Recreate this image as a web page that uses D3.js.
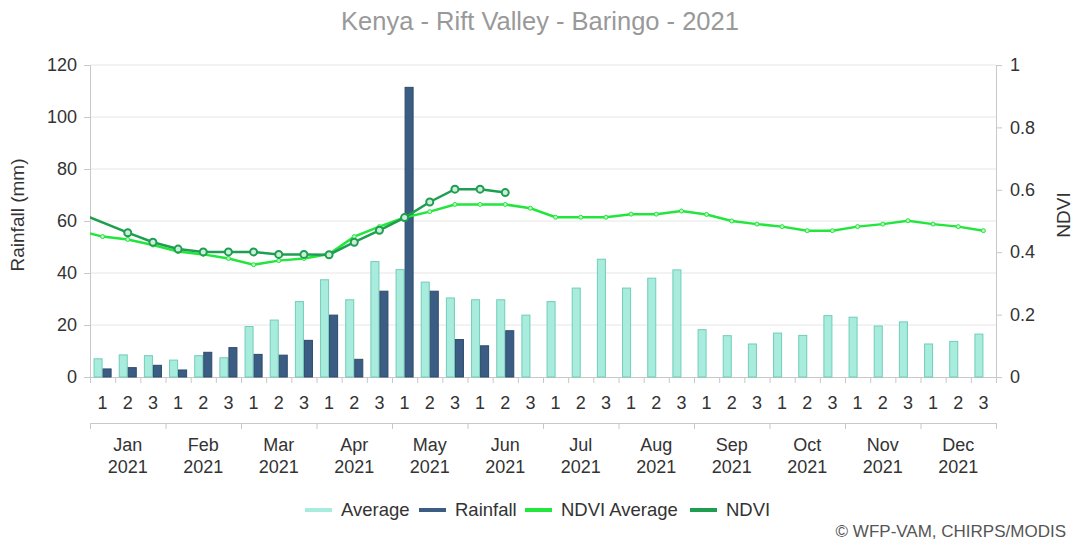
<!DOCTYPE html>
<html>
<head>
<meta charset="utf-8">
<script src="https://cdn.jsdelivr.net/npm/d3@7"></script>
<style>
  body { margin: 0; background: #fff; }
  svg { font-family: "Liberation Sans", Arial, sans-serif; }
</style>
</head>
<body>
<div id="chart"></div>
<script>
// data
var months = ["Jan", "Feb", "Mar", "Apr", "May", "Jun", "Jul", "Aug", "Sep", "Oct", "Nov", "Dec"];
var dekadLabels = ["1", "2", "3"];
var year = "2021";

var avgRain = [7, 8.5, 8.2, 6.5, 8.2, 7.4, 19.4, 21.9, 29, 37.4, 29.7, 44.4,
  41.3, 36.5, 30.4, 29.7, 29.7, 23.8, 29, 34.2, 45.3, 34.2, 38, 41.2,
  18.2, 15.9, 12.7, 16.9, 16, 23.6, 23, 19.6, 21.2, 12.7, 13.7, 16.5];
var rainfall = [3.1, 3.6, 4.5, 2.7, 9.5, 11.3, 8.7, 8.4, 14.1, 23.8, 6.8, 33,
  111.4, 33, 14.4, 12, 17.8];

var ndviAvg = [0.450, 0.441, 0.423, 0.402, 0.393, 0.380, 0.360, 0.373, 0.380, 0.394, 0.450, 0.482,
  0.511, 0.530, 0.553, 0.553, 0.553, 0.541, 0.512, 0.512, 0.512, 0.522, 0.522, 0.532,
  0.521, 0.500, 0.490, 0.482, 0.469, 0.469, 0.482, 0.490, 0.501, 0.490, 0.482, 0.469];
var ndvi = [null, 0.4625, 0.432, 0.410, 0.401, 0.401, 0.401, 0.393, 0.393, 0.392, 0.432, 0.470,
  0.511, 0.561, 0.602, 0.602, 0.591];
// last dekad of the previous year (line enters from the left edge)
var ndviAvgPrev = 0.470;
var ndviPrev = 0.528;

var W = 1073, H = 545;
var margin = { top: 65, right: 77, bottom: 168, left: 90 };
var width = W - margin.left - margin.right,
    height = H - margin.top - margin.bottom;

var colAvg = "#a8ecdd", colAvgStroke = "#72cdb9";
var colRain = "#3c5d83", colRainStroke = "#2d4b6e";
var colNdviAvg = "#22e63c", colNdvi = "#1e9e50";
var labelSize = "18px";

var svg = d3.select("#chart").append("svg")
  .attr("width", W)
  .attr("height", H);

svg.append("text")
  .attr("x", 540)
  .attr("y", 30)
  .attr("text-anchor", "middle")
  .style("font-size", "25.5px")
  .style("fill", "#999")
  .text("Kenya - Rift Valley - Baringo - 2021");

var g = svg.append("g")
  .attr("transform", "translate(" + margin.left + "," + margin.top + ")");

var nDek = months.length * 3;
var idx = d3.range(nDek);

var x = d3.scaleBand().domain(idx).range([0, width]).padding(0);
var xLin = d3.scaleLinear().domain([0, nDek]).range([0, width]);
var xSub = d3.scaleBand().domain(["avg", "rain"]).range([0, x.bandwidth()])
  .paddingInner(0.11).paddingOuter(0.45);

var y = d3.scaleLinear().domain([0, 120]).range([height, 0]);
var y2 = d3.scaleLinear().domain([0, 1]).range([height, 0]);

// grid
g.append("g")
  .selectAll("line")
  .data(y.ticks(6).filter(function(d) { return d > 0; }))
  .enter().append("line")
  .attr("x1", 0).attr("x2", width)
  .attr("y1", function(d) { return y(d); })
  .attr("y2", function(d) { return y(d); })
  .attr("stroke", "#e6e6e6");

// left axis
var yAxis = g.append("g")
  .call(d3.axisLeft(y).ticks(6).tickSize(6).tickPadding(7));
yAxis.select(".domain").attr("stroke", "#c8c8c8");
yAxis.selectAll(".tick line").attr("stroke", "#c8c8c8");
yAxis.selectAll("text").style("font-size", labelSize).style("fill", "#333");

// right axis
var y2Axis = g.append("g")
  .attr("transform", "translate(" + width + ",0)")
  .call(d3.axisRight(y2).ticks(5).tickSize(6).tickPadding(8)
    .tickFormat(function(d) { return d3.format("")(+d.toFixed(1)); }));
y2Axis.select(".domain").attr("stroke", "#c8c8c8");
y2Axis.selectAll(".tick line").attr("stroke", "#c8c8c8");
y2Axis.selectAll("text").style("font-size", labelSize).style("fill", "#333");

// axis titles
g.append("text")
  .attr("transform", "translate(" + (-73) + "," + (height / 2 - 6) + ") rotate(-90)")
  .attr("text-anchor", "middle")
  .attr("dy", "0.35em")
  .style("font-size", "19px")
  .style("fill", "#333")
  .text("Rainfall (mm)");

g.append("text")
  .attr("transform", "translate(" + (width + 67) + "," + (height / 2 - 6) + ") rotate(-90)")
  .attr("text-anchor", "middle")
  .attr("dy", "0.35em")
  .style("font-size", "19px")
  .style("fill", "#333")
  .text("NDVI");

// bottom axis: dekads
var xAxis = g.append("g")
  .attr("transform", "translate(0," + height + ")")
  .call(d3.axisBottom(xLin).tickValues(d3.range(nDek + 1)).tickSize(6).tickFormat(""));
xAxis.select(".domain").attr("stroke", "#c8c8c8");
xAxis.selectAll(".tick line").attr("stroke", "#c8c8c8");

g.append("g")
  .selectAll("text")
  .data(idx)
  .enter().append("text")
  .attr("x", function(d) { return x(d) + x.bandwidth() / 2; })
  .attr("y", height + 32)
  .attr("text-anchor", "middle")
  .style("font-size", labelSize)
  .style("fill", "#333")
  .text(function(d) { return dekadLabels[d % 3]; });

// month axis
var mAxis = g.append("g")
  .attr("transform", "translate(0," + (height + 46) + ")")
  .call(d3.axisBottom(xLin).tickValues(d3.range(0, nDek + 1, 3)).tickSize(6).tickSizeOuter(6).tickFormat(""));
mAxis.select(".domain").attr("stroke", "#c8c8c8");
mAxis.selectAll(".tick line").attr("stroke", "#c8c8c8");

var mLab = g.append("g").selectAll("text")
  .data(months)
  .enter().append("text")
  .attr("x", function(d, i) { return xLin(i * 3 + 1.5); })
  .attr("y", height + 74)
  .attr("text-anchor", "middle")
  .style("font-size", labelSize)
  .style("fill", "#333");
mLab.append("tspan").attr("x", function(d, i) { return xLin(i * 3 + 1.5); }).text(function(d) { return d; });
mLab.append("tspan").attr("x", function(d, i) { return xLin(i * 3 + 1.5); }).attr("dy", 22).text(year);

// bars
g.append("g")
  .selectAll("rect")
  .data(avgRain)
  .enter().append("rect")
  .attr("x", function(d, i) { return x(i) + xSub("avg"); })
  .attr("y", function(d) { return y(d); })
  .attr("width", xSub.bandwidth())
  .attr("height", function(d) { return height - y(d); })
  .attr("fill", colAvg)
  .attr("stroke", colAvgStroke)
  .attr("stroke-width", 1);

g.append("g")
  .selectAll("rect")
  .data(rainfall)
  .enter().append("rect")
  .attr("x", function(d, i) { return x(i) + xSub("rain"); })
  .attr("y", function(d) { return y(d); })
  .attr("width", xSub.bandwidth())
  .attr("height", function(d) { return height - y(d); })
  .attr("fill", colRain)
  .attr("stroke", colRainStroke)
  .attr("stroke-width", 1);

// lines
g.append("clipPath").attr("id", "plotclip")
  .append("rect").attr("x", 0).attr("y", 0).attr("width", width).attr("height", height);

var lineGen = d3.line()
  .x(function(d) { return xLin(d.i + 0.5); })
  .y(function(d) { return y2(d.v); });

var avgPts = [{ i: -1, v: ndviAvgPrev }].concat(ndviAvg.map(function(v, i) { return { i: i, v: v }; }));
var ndviPts = [{ i: -1, v: ndviPrev }].concat(ndvi.map(function(v, i) { return { i: i, v: v }; })
  .filter(function(d) { return d.v != null; }));

var lines = g.append("g").attr("clip-path", "url(#plotclip)");

lines.append("path")
  .datum(avgPts)
  .attr("d", lineGen)
  .attr("fill", "none")
  .attr("stroke", colNdviAvg)
  .attr("stroke-width", 2.5);

lines.selectAll(".mavg")
  .data(avgPts.filter(function(d) { return d.i >= 0; }))
  .enter().append("circle")
  .attr("class", "mavg")
  .attr("cx", function(d) { return xLin(d.i + 0.5); })
  .attr("cy", function(d) { return y2(d.v); })
  .attr("r", 2)
  .attr("fill", "#b8f7c0")
  .attr("stroke", colNdviAvg)
  .attr("stroke-width", 1);

lines.append("path")
  .datum(ndviPts)
  .attr("d", lineGen)
  .attr("fill", "none")
  .attr("stroke", colNdvi)
  .attr("stroke-width", 2.5);

lines.selectAll(".mndvi")
  .data(ndviPts.filter(function(d) { return d.i >= 1; }))
  .enter().append("circle")
  .attr("class", "mndvi")
  .attr("cx", function(d) { return xLin(d.i + 0.5); })
  .attr("cy", function(d) { return y2(d.v); })
  .attr("r", 3.5)
  .attr("fill", "#cfeed9")
  .attr("stroke", colNdvi)
  .attr("stroke-width", 2);

// legend
var legendItems = [
  { name: "Average", color: colAvg, x: 305 },
  { name: "Rainfall", color: colRain, x: 419 },
  { name: "NDVI Average", color: colNdviAvg, x: 525 },
  { name: "NDVI", color: colNdvi, x: 690 }
];
var leg = svg.append("g").selectAll("g")
  .data(legendItems)
  .enter().append("g")
  .attr("transform", function(d) { return "translate(" + d.x + ",510)"; });
leg.append("line")
  .attr("x1", 0).attr("x2", 27)
  .attr("y1", 0).attr("y2", 0)
  .attr("stroke", function(d) { return d.color; })
  .attr("stroke-width", 4);
leg.append("text")
  .attr("x", 36)
  .attr("dy", "0.35em")
  .style("font-size", "18.5px")
  .style("fill", "#333")
  .text(function(d) { return d.name; });

svg.append("text")
  .attr("x", 1066)
  .attr("y", 537)
  .attr("text-anchor", "end")
  .style("font-size", "17px")
  .style("fill", "#555")
  .text("\u00a9 WFP-VAM, CHIRPS/MODIS");
</script>
</body>
</html>
